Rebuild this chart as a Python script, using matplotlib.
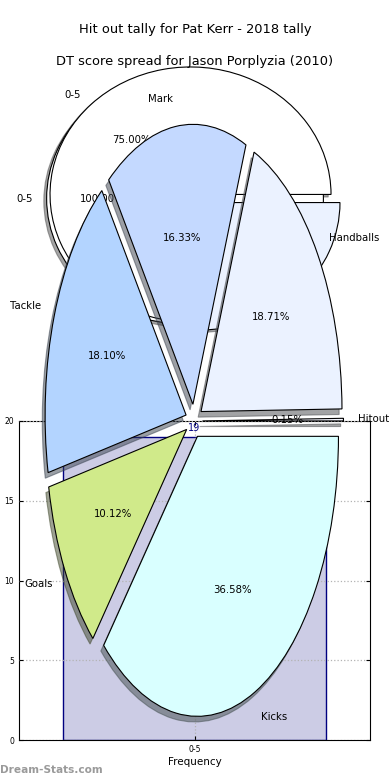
import numpy as np
import matplotlib
matplotlib.use('Agg')
import matplotlib.pyplot as plt

W, H = 390, 780

# exploded stat pie
stat_labels = ['Hitout', 'Handballs', 'Mark', 'Tackle', 'Goals', 'Kicks']
stat_pcts = [0.15, 18.71, 16.33, 18.10, 10.12, 36.58]
stat_colors = ['#f4f6ff', '#ebf2ff', '#c4d9ff', '#b3d4ff', '#d0ea8a', '#d9ffff']

# hit out tally pie (75%) and dt score pie (100%)
tally_labels = ['0-5', '']
tally_fracs = [0.75, 0.25]
tally_colors = ['white', '#ebf2ff']
dt_labels = ['0-5']
dt_fracs = [1.0]

# frequency bar
bar_cats = ['0-5']
bar_vals = [19]

title1 = 'Hit out tally for Pat Kerr - 2018 tally'
title2 = 'DT score spread for Jason Porplyzia (2010)'

fig = plt.figure(figsize=(W / 100, H / 100), dpi=100)


def px_axes(cx, cy, rx, ry, lim=1.25):
    # axes whose data (0,0) sits at pixel (cx, cy), one unit = rx / ry pixels
    w, h = 2 * lim * rx, 2 * lim * ry
    ax = fig.add_axes([(cx - w / 2) / W, (H - cy - h / 2) / H, w / W, h / H])
    return ax


def finish_pie(ax, lim=1.25):
    ax.set_aspect('auto')
    ax.set_xlim(-lim, lim)
    ax.set_ylim(-lim, lim)
    ax.axis('off')


wp = dict(edgecolor='black', linewidth=0.8)
tp = dict(fontsize=7.3)
# old-style shadow: 0.02 data units (newer mpl scales the offset by dpi/72)
sh = dict(ox=-0.0144, oy=-0.0144)

# white pies, both in one axes
ax1 = px_axes(195, 198.5, 140.5, 127.5)
ax1.pie(dt_fracs, labels=dt_labels, colors=['white'], autopct='%1.2f%%',
        normalize=False, center=(-0.071, 0.0), radius=0.985, shadow=sh,
        wedgeprops=wp, textprops=tp)
ax1.pie(tally_fracs, labels=tally_labels, colors=tally_colors, autopct='%1.2f%%',
        normalize=False, explode=[0.045, 0.045], shadow=sh,
        wedgeprops=wp, textprops=tp)
finish_pie(ax1)

# bar chart
ax2 = fig.add_axes([19 / W, 40 / H, 351 / W, 319 / H])
x = np.arange(len(bar_cats))
ax2.bar(x, bar_vals, width=0.75, color=(0, 0, 0.5, 0.2), edgecolor='navy', linewidth=1)
for xi, v in zip(x, bar_vals):
    ax2.text(xi, v + 0.58, str(v), color='navy', ha='center', va='center', fontsize=7)
ax2.set_xlim(-0.5, 0.5)
ax2.set_ylim(0, 20)
ax2.set_xticks(x)
ax2.set_xticklabels(bar_cats)
ax2.set_yticks([0, 5, 10, 15, 20])
ax2.tick_params(direction='in', labelsize=5.5, top=True, right=True, length=3)
ax2.grid(True, linestyle=':', color='0.7', linewidth=0.9)
ax2.set_axisbelow(False)
ax2.set_xlabel('Frequency', fontsize=7.5, labelpad=2)
ax2.set_ylabel('Stat Interval', fontsize=7.5)
ax2.yaxis.set_label_coords(-0.046, 0.5)

# exploded stat pie on top
ax3 = px_axes(194, 421, 141, 280)
ax3.pie(stat_pcts, labels=stat_labels, colors=stat_colors, autopct='%1.2f%%',
        explode=[0.06] * len(stat_pcts), shadow=sh, startangle=0,
        wedgeprops=wp, textprops=tp)
finish_pie(ax3)

fig.text(0.5, 1 - 30 / H, title1, ha='center', va='center', fontsize=9.4)
fig.text(0.5, 1 - 61 / H, title2, ha='center', va='center', fontsize=9.4)
fig.text(0.0, 1 - 770 / H, 'Dream-Stats.com', ha='left', va='center',
         fontsize=7.6, fontweight='bold', color='#9a9a9a')

fig.savefig('out.png', dpi=100)
